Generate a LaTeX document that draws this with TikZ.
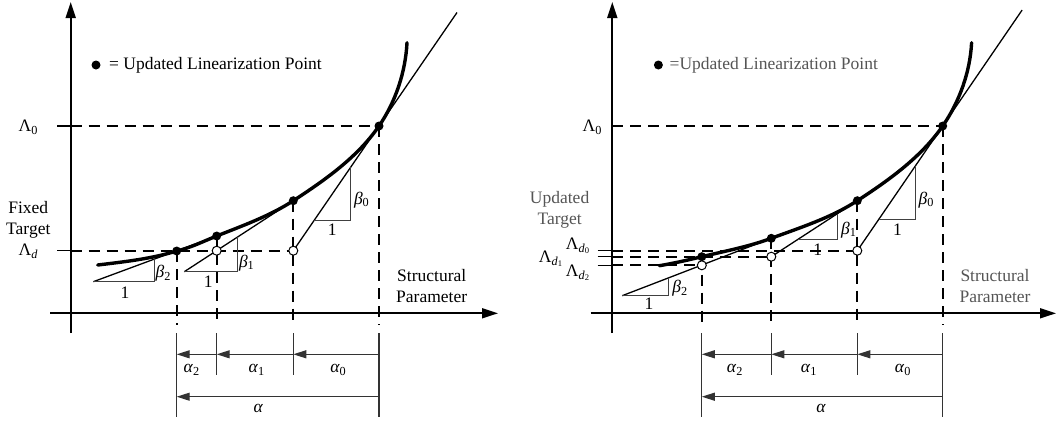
\documentclass[tikz,border=0pt]{standalone}
\usepackage{fontspec}
\setmainfont{Liberation Serif}
\usepackage{xcolor}
\usepackage{tikz}
\usetikzlibrary{arrows.meta, calc}
\definecolor{ink}{HTML}{000000}
\definecolor{fade}{HTML}{555555}
\tikzset{
  axis/.style    = {line width=1.8pt, draw=ink, -{Triangle[length=16pt,width=10pt]}},
  guide/.style   = {line width=1.8pt, draw=ink, dash pattern=on 11pt off 7pt},
  tickmark/.style= {line width=1.2pt, draw=ink},
  curve/.style   = {line width=3.4pt, draw=ink, line cap=round},
  tangent/.style = {line width=1.3pt, draw=ink},
  slope/.style   = {line width=1pt, draw=ink!75},
  ext/.style     = {line width=1.1pt, draw=ink!80},
  dim/.style     = {line width=1.1pt, draw=ink!80, -{Triangle[length=13pt,width=8pt]}},
  ptfull/.style  = {circle, fill=ink, inner sep=0pt, minimum size=9pt},
  ptopen/.style  = {circle, draw=ink, fill=white, line width=1pt, inner sep=0pt, minimum size=9pt},
  lbl/.style     = {font=\fontsize{17.5}{21}\selectfont, inner sep=0pt, align=center},
}

\begin{document}
\begin{tikzpicture}[x=1pt, y=-1pt]
  \useasboundingbox (0,0) rectangle (1058,421);

  % ----- LEFT PANEL: fixed target -----
  \coordinate (lbot) at (0,325);
  \coordinate (lA)  at (97.7,265);
  \coordinate (lP3) at (176.7,251);
  \coordinate (lP2) at (216.7,236);
  \coordinate (lP1) at (293.3,200.7);
  \coordinate (lP0) at (379,126);
  \coordinate (lT)  at (407,42.7);
  \coordinate (lO1) at (216.7,250.7);
  \coordinate (lO0) at (293.3,250.7);
  \coordinate (lB1) at (184.3,271.7);
  \coordinate (lB2) at (93.3,281.7);

  \draw[axis] (70.7,333) -- (70.7,2);
  \draw[axis] (50,313.3) -- (498,313.3);

  \draw[tickmark] (57,126) -- (70.7,126);
  \draw[guide] (70.7,126) -- (lP0);
  \draw[tickmark] (57,250.7) -- (70.7,250.7);
  \draw[guide] (70.7,250.7) -- (lO0);
  \draw[guide] (lP3) -- (lP3 |- lbot);
  \draw[guide] (lP2) -- (lP2 |- lbot);
  \draw[guide] (lP1) -- (lP1 |- lbot);
  \draw[guide] (lP0) -- (lP0 |- lbot);

  \draw[tangent] (lO0) -- ($(lO0)!1.91!(lP0)$);
  \draw[tangent] (lB1) -- (lP1);
  \draw[tangent] (lB2) -- (lP2);

  \draw[slope] (314.4,220) -- (350.7,220) -- (350.7,167.2);
  \draw[slope] (lB1) -- (237.7,271.7) -- (237.7,236.9);
  \draw[slope] (lB2) -- (154,281.7) -- (154,259.2);

  \draw[curve] (lA) .. controls (124.2,261.8) and (151,258.9) .. (lP3)
    .. controls (190.5,247.8) and (203.4,241.3) .. (lP2)
    .. controls (242.8,225.6) and (269.8,216) .. (lP1)
    .. controls (325.1,180) and (357.5,157.2) .. (lP0)
    .. controls (395.6,101.9) and (405.5,72) .. (lT);

  \node[ptopen] (lo1dot) at (lO1) {};
  \node[ptopen] (lo0dot) at (lO0) {};
  \node[ptfull] (lp3dot) at (lP3) {};
  \node[ptfull] (lp2dot) at (lP2) {};
  \node[ptfull] (lp1dot) at (lP1) {};
  \node[ptfull] (lp0dot) at (lP0) {};

  % dimensions
  \draw[ext] (176.7,333) -- (176.7,416.7);
  \draw[ext] (379,333) -- (379,416.7);
  \draw[ext] (216.7,333) -- (216.7,375);
  \draw[ext] (293.3,333) -- (293.3,375);
  \draw[dim] (379,354.3) -- (293.3,354.3);
  \draw[dim] (293.3,354.3) -- (216.7,354.3);
  \draw[dim] (216.7,354.3) -- (176.7,354.3);
  \draw[dim] (379,396.7) -- (176.7,396.7);

  % labels
  \node[ptfull] (llegdot) at (96,65) {};
  \node[lbl, anchor=west] (llegend) at (109,65) {= Updated Linearization Point};
  \node[lbl] (llam0) at (28.3,127) {Λ\textsubscript{0}};
  \node[lbl] (lfixed) at (28.3,230) {Fixed\\Target\\Λ\textsubscript{\textit{d}}};
  \node[lbl] (lstruct) at (431.7,286) {Structural\\Parameter};
  \node[lbl] (lbeta0) at (361.7,200) {\textit{β}\textsubscript{0}};
  \node[lbl] (lbeta1) at (246.7,263) {\textit{β}\textsubscript{1}};
  \node[lbl] (lbeta2) at (163.3,273.3) {\textit{β}\textsubscript{2}};
  \node[lbl] (lone0) at (332.3,230) {1};
  \node[lbl] (lone1) at (208.3,281.7) {1};
  \node[lbl] (lone2) at (125,292.3) {1};
  \node[lbl] (lalpha2) at (191.7,370) {\textit{α}\textsubscript{2}};
  \node[lbl] (lalpha1) at (256.7,370) {\textit{α}\textsubscript{1}};
  \node[lbl] (lalpha0) at (338.3,370) {\textit{α}\textsubscript{0}};
  \node[lbl] (lalpha) at (258.3,408.3) {\textit{α}};

  % ----- RIGHT PANEL: updated target -----
  \coordinate (rbot) at (0,325);
  \coordinate (rA)  at (659.4,265.7);
  \coordinate (rP3) at (701.8,256.7);
  \coordinate (rP2) at (771.3,238.3);
  \coordinate (rP1) at (857.3,200.7);
  \coordinate (rP0) at (942.7,126);
  \coordinate (rT)  at (971.6,42.7);
  \coordinate (rO2) at (701.8,265.3);
  \coordinate (rO1) at (771.3,256.7);
  \coordinate (rO0) at (857.3,250.7);
  \coordinate (rB2) at (622.2,295.7);

  \draw[axis] (612.3,333) -- (612.3,2);
  \draw[axis] (590.6,313.3) -- (1056,313.3);

  \draw[guide] (612.3,126) -- (rP0);
  \draw[tickmark] (597.5,250.7) -- (612.3,250.7);
  \draw[guide] (612.3,250.7) -- (rO0);
  \draw[tickmark] (597.5,256.7) -- (612.3,256.7);
  \draw[guide] (612.3,256.7) -- (rO1);
  \draw[tickmark] (597.5,265.3) -- (612.3,265.3);
  \draw[guide] (612.3,265.3) -- (rO2);
  \draw[guide] (rP3) -- (rP3 |- rbot);
  \draw[guide] (rP2) -- (rP2 |- rbot);
  \draw[guide] (rP1) -- (rP1 |- rbot);
  \draw[guide] (rP0) -- (rP0 |- rbot);

  \draw[tangent] (rO0) -- ($(rO0)!1.93!(rP0)$);
  \draw[tangent] (rO1) -- (rP1);
  \draw[tangent] (rB2) -- (rP2);

  \draw[slope] (878.8,219.3) -- (915.2,219.3) -- (915.2,166.2);
  \draw[slope] (798,239.3) -- (837.4,239.3) -- (837.4,213.7);
  \draw[slope] (rB2) -- (668.7,295.7) -- (668.7,277.8);

  \draw[curve] (rA) .. controls (673.6,263.3) and (687.8,260.1) .. (rP3)
    .. controls (725.1,251.1) and (748.8,246.6) .. (rP2)
    .. controls (800.7,227.4) and (831.1,217.8) .. (rP1)
    .. controls (889,180.1) and (921.2,157.1) .. (rP0)
    .. controls (959.4,101.8) and (970.1,72.1) .. (rT);

  \node[ptopen] (ro2dot) at (rO2) {};
  \node[ptopen] (ro1dot) at (rO1) {};
  \node[ptopen] (ro0dot) at (rO0) {};
  \node[ptfull] (rp3dot) at (rP3) {};
  \node[ptfull] (rp2dot) at (rP2) {};
  \node[ptfull] (rp1dot) at (rP1) {};
  \node[ptfull] (rp0dot) at (rP0) {};

  % dimensions
  \draw[ext] (701.8,333) -- (701.8,416.7);
  \draw[ext] (942.7,333) -- (942.7,416.7);
  \draw[ext] (771.3,333) -- (771.3,375);
  \draw[ext] (857.3,333) -- (857.3,375);
  \draw[dim] (942.7,354.3) -- (857.3,354.3);
  \draw[dim] (857.3,354.3) -- (771.3,354.3);
  \draw[dim] (771.3,354.3) -- (701.8,354.3);
  \draw[dim] (942.7,396.7) -- (701.8,396.7);

  % labels
  \node[ptfull] (rlegdot) at (658.4,65) {};
  \node[lbl, anchor=west, text=fade] (rlegend) at (669.5,65) {=Updated Linearization Point};
  \node[lbl] (rlam0) at (592.3,127) {Λ\textsubscript{0}};
  \node[lbl, text=fade] (rupd) at (559.6,210) {Updated\\Target};
  \node[lbl] (rlamd0) at (578,246) {Λ\textsubscript{\textit{d}\textsubscript{0}}};
  \node[lbl] (rlamd1) at (551,259) {Λ\textsubscript{\textit{d}\textsubscript{1}}};
  \node[lbl] (rlamd2) at (578,273) {Λ\textsubscript{\textit{d}\textsubscript{2}}};
  \node[lbl, text=fade] (rstruct) at (995,286) {Structural\\Parameter};
  \node[lbl] (rbeta0) at (926.2,200) {\textit{β}\textsubscript{0}};
  \node[lbl] (rbeta1) at (848.7,230) {\textit{β}\textsubscript{1}};
  \node[lbl] (rbeta2) at (680,288.3) {\textit{β}\textsubscript{2}};
  \node[lbl] (rone0) at (897.6,230) {1};
  \node[lbl] (rone1) at (817.8,250) {1};
  \node[lbl] (rone2) at (649,304) {1};
  \node[lbl] (ralpha2) at (735,370) {\textit{α}\textsubscript{2}};
  \node[lbl] (ralpha1) at (809,370) {\textit{α}\textsubscript{1}};
  \node[lbl] (ralpha0) at (903,370) {\textit{α}\textsubscript{0}};
  \node[lbl] (ralpha) at (821,408.3) {\textit{α}};
\end{tikzpicture}
\end{document}
